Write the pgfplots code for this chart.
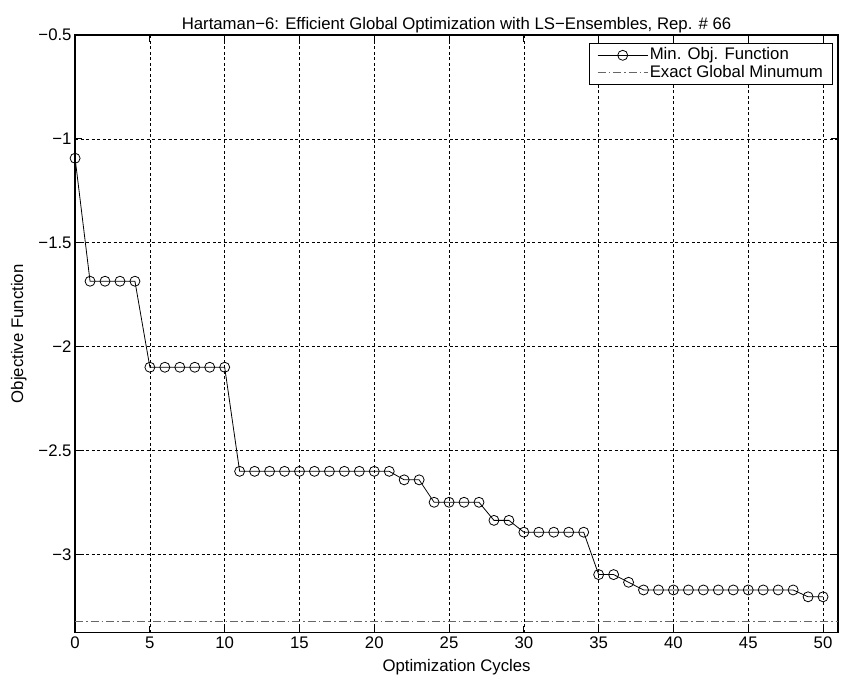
\documentclass[border=0pt]{standalone}
\usepackage{fontspec}
\setmainfont{Liberation Sans}
\usepackage{pgfplots}
\pgfplotsset{compat=1.18}
\usetikzlibrary{calc}

\newcommand{\chartfont}{\fontsize{16.8}{19}\selectfont}

\begin{document}
\begin{tikzpicture}
\begin{axis}[
  name=ax,
  scale only axis,
  width=762bp, height=597bp,
  xmin=0, xmax=51,
  ymin=-3.377, ymax=-0.5,
  xtick={0,5,...,50},
  ytick={-3,-2.5,-2,-1.5,-1,-0.5},
  yticklabels={−3,−2.5,−2,−1.5,−1,−0.5},
  /pgf/number format/assume math mode=true,
  font=\chartfont,
  tick label style={font=\chartfont},
  xticklabel style={yshift=-1bp},
  tick align=inside,
  major tick length=7bp,
  xtick pos=both, ytick pos=both,
  every tick/.style={black, line width=1bp},
  axis line style={black, line width=1.3bp},
  grid=major,
  major grid style={black, line width=0.6bp, dash pattern=on 3bp off 2.5bp},
  title={Hartaman−6: Efficient Global Optimization with LS−Ensembles, Rep. \# 66},
  title style={font=\chartfont, yshift=-7bp},
  xlabel={Optimization Cycles},
  ylabel={Objective Function},
  xlabel style={font=\chartfont, yshift=-3bp},
  ylabel style={font=\chartfont, yshift=5bp},
  legend style={at={(1,1)}, xshift=-5bp, yshift=-8bp, anchor=north east,
    draw=black, line width=1bp, font=\chartfont,
    inner xsep=8bp, inner ysep=3bp, row sep=0bp, cells={anchor=west},
    nodes={inner sep=1.5bp, text height=11.5bp, text depth=3bp}},
  legend image code/.code={
    \draw[#1, mark repeat=2, mark phase=2] plot coordinates {(0bp,0bp) (25bp,0bp) (50bp,0bp)};
  },
]
% best objective value found after each cycle
\addplot[black, line width=0.8bp, mark=o, mark size=5bp,
  mark options={solid, line width=0.8bp}] coordinates {
  (0,-1.093)
  (1,-1.685) (2,-1.685) (3,-1.685) (4,-1.685)
  (5,-2.099) (6,-2.099) (7,-2.099) (8,-2.099) (9,-2.099) (10,-2.099)
  (11,-2.600) (12,-2.600) (13,-2.600) (14,-2.600) (15,-2.600) (16,-2.600)
  (17,-2.600) (18,-2.600) (19,-2.600) (20,-2.600) (21,-2.600)
  (22,-2.641) (23,-2.641)
  (24,-2.749) (25,-2.749) (26,-2.749) (27,-2.749)
  (28,-2.836) (29,-2.836)
  (30,-2.893) (31,-2.893) (32,-2.893) (33,-2.893) (34,-2.893)
  (35,-3.097) (36,-3.097)
  (37,-3.134)
  (38,-3.171) (39,-3.171) (40,-3.171) (41,-3.171) (42,-3.171) (43,-3.171)
  (44,-3.171) (45,-3.171) (46,-3.171) (47,-3.171) (48,-3.171)
  (49,-3.204) (50,-3.204)
};
\addlegendentry{Min. Obj. Function}
% known global minimum of the Hartmann-6 function
\addplot[color=black!60, line width=1bp,
  dash pattern=on 8bp off 3bp on 1.5bp off 3bp] coordinates {(0,-3.32237) (51,-3.32237)};
\addlegendentry{Exact Global Minumum}
\end{axis}
\pgfresetboundingbox
\path[use as bounding box] ($(ax.south west)+(-75bp,-50bp)$) rectangle ($(ax.north east)+(4bp,35bp)$);
\end{tikzpicture}
\end{document}
